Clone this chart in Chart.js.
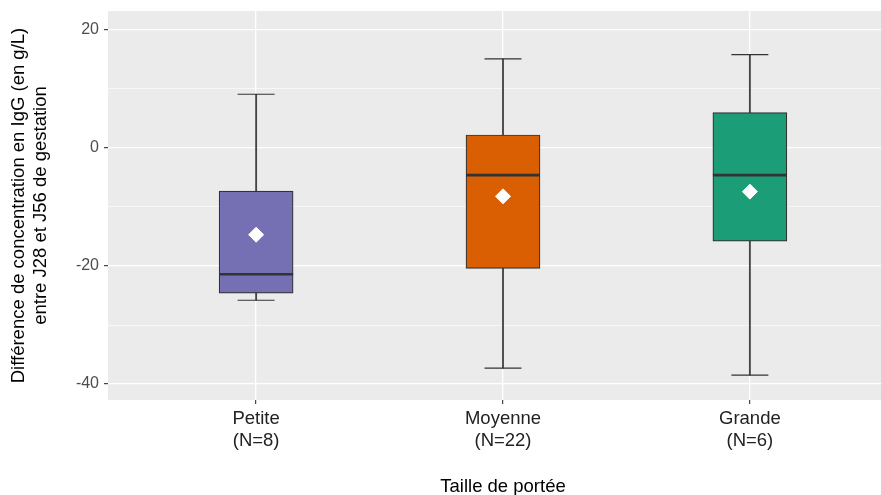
<!DOCTYPE html>
<html>
<head>
<meta charset="utf-8">
<script src="https://cdn.jsdelivr.net/npm/chart.js@4.4.1/dist/chart.umd.min.js"></script>
<style>
  html, body { margin: 0; padding: 0; background: #fff; overflow: hidden; }
  #wrap { width: 900px; height: 500px; }
</style>
</head>
<body>
<div id="wrap"><canvas id="boxChart" width="900" height="500"></canvas></div>
<script>
// Données (g/L)
var categories = [['Petite', '(N=8)'], ['Moyenne', '(N=22)'], ['Grande', '(N=6)']];
var positions = [1, 2, 3];
var whiskerLow = [-25.8, -37.3, -38.5];
var q1 = [-24.6, -20.4, -15.8];
var medians = [-21.4, -4.6, -4.6];
var q3 = [-7.3, 2.2, 6.0];
var whiskerHigh = [9.1, 15.1, 15.8];
var means = [-14.7, -8.2, -7.4];
var boxColors = ['#7570B3', '#D95F02', '#1B9E77'];
var yTicks = [-40, -30, -20, -10, 0, 10, 20];

var fontFamily = "'Liberation Sans', Arial, sans-serif";

function pts(vals) {
  return positions.map(function (p, i) { return { x: p, y: vals[i] }; });
}

var whiskers = positions.map(function (p, i) { return { x: p, y: [whiskerLow[i], whiskerHigh[i]] }; });
var boxes = positions.map(function (p, i) { return { x: p, y: [q1[i], q3[i]] }; });

// fond gris du panneau façon ggplot
var panelBg = {
  id: 'panelBg',
  beforeDraw: function (chart) {
    var c = chart.ctx, a = chart.chartArea;
    c.save();
    c.fillStyle = '#fff';
    c.fillRect(0, 0, chart.width, chart.height);
    c.fillStyle = '#EBEBEB';
    c.fillRect(a.left, a.top, a.right - a.left, a.bottom - a.top);
    c.restore();
  }
};

var ctx = document.getElementById('boxChart').getContext('2d');
var boxChart = new Chart(ctx, {
  type: 'bar',
  data: {
    datasets: [
      {
        label: 'moustaches',
        data: whiskers,
        backgroundColor: '#444444',
        barThickness: 1.2,
        grouped: false,
        order: 5
      },
      {
        label: 'boîtes',
        data: boxes,
        backgroundColor: boxColors,
        borderColor: '#333333',
        borderWidth: 1.2,
        borderSkipped: false,
        barThickness: 74,
        grouped: false,
        order: 4
      },
      {
        type: 'scatter',
        label: 'extrémités',
        data: pts(whiskerLow).concat(pts(whiskerHigh)),
        pointStyle: 'line',
        pointRadius: 18.5,
        borderColor: '#333333',
        borderWidth: 1.2,
        order: 3
      },
      {
        type: 'scatter',
        label: 'médianes',
        data: pts(medians),
        pointStyle: 'line',
        pointRadius: 37,
        borderColor: '#333333',
        borderWidth: 2.6,
        order: 2
      },
      {
        type: 'scatter',
        label: 'moyennes',
        data: pts(means),
        pointStyle: 'rectRot',
        pointRadius: 7.5,
        backgroundColor: '#FFFFFF',
        borderColor: '#FFFFFF',
        borderWidth: 1,
        order: 1
      }
    ]
  },
  options: {
    responsive: false,
    animation: false,
    layout: { autoPadding: false, padding: { top: 11, right: 2, left: 0, bottom: 0 } },
    plugins: {
      legend: { display: false },
      tooltip: { enabled: false }
    },
    scales: {
      x: {
        type: 'linear',
        min: 0.4,
        max: 3.6,
        offset: false,
        afterBuildTicks: function (axis) {
          axis.ticks = positions.map(function (p) { return { value: p }; });
        },
        afterFit: function (axis) {
          axis.height = 100;
          axis.paddingLeft = 0;
          axis.paddingRight = 0;
        },
        grid: {
          offset: false,
          color: '#FFFFFF',
          lineWidth: 1.3,
          tickColor: '#333333',
          tickLength: 4,
          tickWidth: 1.1
        },
        border: { display: false },
        ticks: {
          autoSkip: false,
          maxRotation: 0,
          padding: 4,
          color: '#222222',
          font: { family: fontFamily, size: 18.5 },
          callback: function (v) { return categories[positions.indexOf(v)] || ''; }
        },
        title: {
          display: true,
          text: 'Taille de portée',
          color: '#000000',
          font: { family: fontFamily, size: 18.5 },
          padding: { top: 0, bottom: 2 }
        }
      },
      y: {
        min: -42.7,
        max: 23.2,
        afterBuildTicks: function (axis) {
          axis.ticks = yTicks.map(function (v) { return { value: v }; });
        },
        afterFit: function (axis) {
          axis.width = 108;
          axis.paddingTop = 0;
          axis.paddingBottom = 0;
        },
        grid: {
          color: '#FFFFFF',
          lineWidth: function (c) { return c.tick && c.tick.value % 20 === 0 ? 1.3 : 0.6; },
          tickColor: function (c) { return c.tick && c.tick.value % 20 === 0 ? '#333333' : 'rgba(0,0,0,0)'; },
          tickLength: 4,
          tickWidth: 1.1
        },
        border: { display: false },
        ticks: {
          padding: 5,
          color: '#4D4D4D',
          font: { family: fontFamily, size: 16 },
          callback: function (v) { return v % 20 === 0 ? v : ''; }
        },
        title: {
          display: true,
          text: ['Différence de concentration en IgG (en g/L)', 'entre J28 et J56 de gestation'],
          color: '#000000',
          font: { family: fontFamily, size: 18.5 },
          padding: { top: 8, bottom: 0 }
        }
      }
    }
  },
  plugins: [panelBg]
});
</script>
</body>
</html>
